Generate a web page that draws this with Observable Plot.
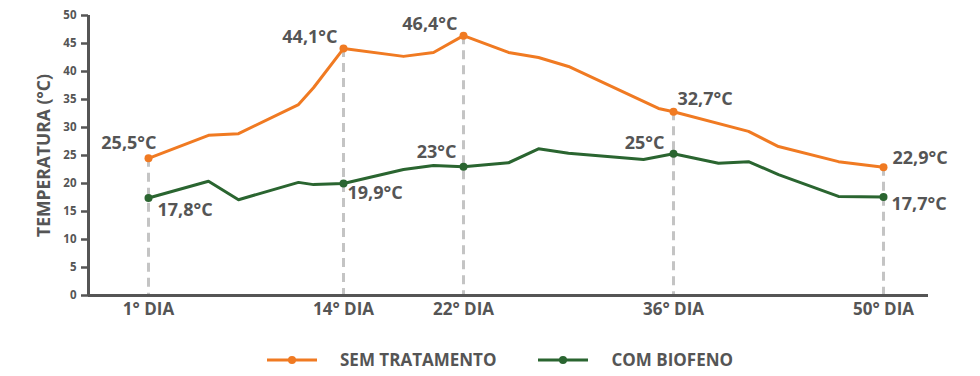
<!DOCTYPE html>
<html>
<head>
<meta charset="utf-8">
<script src="https://cdn.jsdelivr.net/npm/d3@7"></script>
<script src="https://cdn.jsdelivr.net/npm/@observablehq/plot@0.6"></script>
<style>
  html, body { margin: 0; padding: 0; background: #fff; }
  #wrap { position: relative; width: 980px; height: 376px; font-family: "Open Sans", sans-serif; }
  #legend { position: absolute; top: 348px; left: 267px; display: flex; align-items: center; color: #555; font-weight: 700; font-size: 17px; line-height: 24px; }
  .item { display: flex; align-items: center; }
  .item svg { margin-right: 23px; }
</style>
</head>
<body>
<div id="wrap"><div id="chart"></div><div id="legend"></div></div>
<script>
// ---- data ----
const days = [1, 5, 7, 11, 12, 14, 18, 20, 22, 25, 27, 29, 35, 36, 41, 43, 47, 50];
const semTratamento = [24.5, 28.6, 28.9, 34.1, 37.1, 44.1, 42.7, 43.4, 46.4, 43.4, 42.5, 40.9, 33.4, 32.8, 29.3, 26.6, 23.9, 22.9];
const daysBio = [1, 5, 7, 11, 12, 14, 18, 20, 22, 25, 27, 29, 34, 36, 39, 41, 43, 47, 50];
const comBiofeno = [17.4, 20.4, 17.1, 20.2, 19.8, 20.0, 22.5, 23.2, 23.0, 23.7, 26.2, 25.4, 24.3, 25.3, 23.6, 23.9, 21.6, 17.7, 17.6];
const markDays = [1, 14, 22, 36, 50];
const semLabels = ["25,5°C", "44,1°C", "46,4°C", "32,7°C", "22,9°C"];
const bioLabels = ["17,8°C", "19,9°C", "23°C", "25°C", "17,7°C"];
const yTicks = [0, 5, 10, 15, 20, 25, 30, 35, 40, 45, 50];
const seriesNames = ["SEM TRATAMENTO", "COM BIOFENO"];
const yTitle = "TEMPERATURA (°C)";

const ORANGE = "#F07A22", GREEN = "#2A6530", INK = "#555555", DASH = "#c4c4c4";

const semAt = d => semTratamento[days.indexOf(d)];
const bioAt = d => comBiofeno[daysBio.indexOf(d)];
const semPts = markDays.map((d, i) => ({x: d, y: semAt(d), label: semLabels[i], i}));
const bioPts = markDays.map((d, i) => ({x: d, y: bioAt(d), label: bioLabels[i], i}));
const semLine = days.map((d, i) => ({x: d, y: semTratamento[i]}));
const bioLine = daysBio.map((d, i) => ({x: d, y: comBiofeno[i]}));

const lab = {fontSize: 18, fontWeight: 700, fill: INK, text: "label", x: "x", y: "y"};

const chart = Plot.plot({
  width: 980, height: 330,
  marginTop: 15, marginBottom: 35, marginLeft: 88, marginRight: 52,
  x: {domain: [-3, 53]},
  y: {domain: [0, 50]},
  style: {fontFamily: "Open Sans", color: INK, background: "white", overflow: "visible"},
  marks: [
    Plot.ruleX(semPts, {x: "x", y1: "y", y2: 0, stroke: DASH, strokeWidth: 3, strokeDasharray: "9,6"}),
    Plot.ruleY([0], {stroke: INK, strokeWidth: 3}),
    Plot.ruleX([-3], {y1: 0, y2: 50, stroke: INK, strokeWidth: 3}),
    Plot.axisY({ticks: yTicks, tickSize: 7, tickPadding: 5, fontSize: 11.5, fontWeight: 700, strokeWidth: 2.5, label: null}),
    Plot.axisX({ticks: markDays, tickFormat: d => `${d}° DIA`, tickSize: 0, tickPadding: 7, fontSize: 17, fontWeight: 700, label: null}),
    Plot.text([yTitle], {frameAnchor: "left", textAnchor: "middle", rotate: -90, dx: -44, fontSize: 17.5, fontWeight: 700, fill: INK}),
    Plot.line(semLine, {x: "x", y: "y", stroke: ORANGE, strokeWidth: 3}),
    Plot.line(bioLine, {x: "x", y: "y", stroke: GREEN, strokeWidth: 3}),
    Plot.dot(semPts, {x: "x", y: "y", r: 4, fill: ORANGE}),
    Plot.dot(bioPts, {x: "x", y: "y", r: 4, fill: GREEN}),
    // orange labels
    Plot.text(semPts.filter(p => p.i === 0), {...lab, textAnchor: "end", dx: 8, dy: -15}),
    Plot.text(semPts.filter(p => p.i === 1 || p.i === 2), {...lab, textAnchor: "end", dx: -6, dy: -11}),
    Plot.text(semPts.filter(p => p.i === 3), {...lab, textAnchor: "start", dx: 4, dy: -13}),
    Plot.text(semPts.filter(p => p.i === 4), {...lab, textAnchor: "start", dx: 9, dy: -9}),
    // green labels
    Plot.text(bioPts.filter(p => p.i === 0), {...lab, textAnchor: "start", dx: 9, dy: 12}),
    Plot.text(bioPts.filter(p => p.i === 1), {...lab, textAnchor: "start", dx: 4, dy: 10}),
    Plot.text(bioPts.filter(p => p.i === 2), {...lab, textAnchor: "end", dx: -7, dy: -14}),
    Plot.text(bioPts.filter(p => p.i === 3), {...lab, textAnchor: "end", dx: -9, dy: -11}),
    Plot.text(bioPts.filter(p => p.i === 4), {...lab, textAnchor: "start", dx: 8, dy: 7})
  ]
});
document.getElementById("chart").appendChild(chart);

// legend
const legend = d3.select("#legend");
[[seriesNames[0], ORANGE], [seriesNames[1], GREEN]].forEach(([name, color], k) => {
  const it = legend.append("div").attr("class", "item").style("margin-right", k === 0 ? "42px" : "0");
  const s = it.append("svg").attr("width", 50).attr("height", 10);
  s.append("line").attr("x1", 0).attr("x2", 50).attr("y1", 5).attr("y2", 5).attr("stroke", color).attr("stroke-width", 3);
  s.append("circle").attr("cx", 25).attr("cy", 5).attr("r", 4).attr("fill", color);
  it.append("span").text(name);
});
</script>
</body>
</html>
